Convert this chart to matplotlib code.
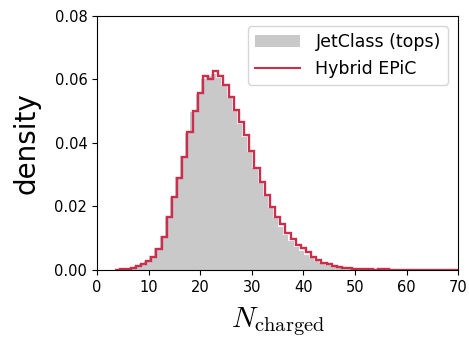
import numpy as np
import matplotlib
matplotlib.use("Agg")
import matplotlib.pyplot as plt
from matplotlib.lines import Line2D
from matplotlib.patches import Patch

plt.rcParams['font.family'] = 'DejaVu Sans'
plt.rcParams['mathtext.fontset'] = 'cm'

# bin centres (number of charged constituents)
n_charged = np.arange(4, 71)

# JetClass (tops), density per unit bin
jetclass = [0.0001, 0.0002, 0.0004, 0.0007, 0.0011, 0.0018, 0.0028, 0.0043,
            0.0068, 0.0108, 0.0168, 0.0230, 0.0292, 0.0360, 0.0432, 0.0497,
            0.0555, 0.0600, 0.0612, 0.0618, 0.0605, 0.0580, 0.0542, 0.0500,
            0.0460, 0.0418, 0.0370, 0.0320, 0.0275, 0.0232, 0.0195, 0.0162,
            0.0135, 0.0110, 0.0090, 0.0073, 0.0060, 0.0048, 0.0037, 0.0029,
            0.0022, 0.0016, 0.0012, 0.0009, 0.0006, 0.0005, 0.0003, 0.0002,
            0.0002, 0.0001, 0.0001, 0.0001]
jetclass = jetclass + [0.0] * (len(n_charged) - len(jetclass))

# Hybrid EPiC
epic = [0.0001, 0.0002, 0.0004, 0.0007, 0.0011, 0.0017, 0.0027, 0.0041,
        0.0065, 0.0105, 0.0165, 0.0228, 0.0288, 0.0356, 0.0435, 0.0500,
        0.0558, 0.0611, 0.0602, 0.0627, 0.0610, 0.0583, 0.0545, 0.0504,
        0.0467, 0.0425, 0.0375, 0.0322, 0.0278, 0.0236, 0.0197, 0.0167,
        0.0143, 0.0116, 0.0097, 0.0077, 0.0068, 0.0055, 0.0040, 0.0032,
        0.0023, 0.0018, 0.0013, 0.0009, 0.0007, 0.0005, 0.0004, 0.0003,
        0.0002, 0.0002, 0.0001, 0.0002, 0.0002, 0.0001]
epic = epic + [0.0] * (len(n_charged) - len(epic))

edges_epic = np.arange(3.5, 71.0, 1.0)
edges_jc = edges_epic - 0.4

gray = '#c9c9c9'
red = '#cc2f4e'

fig = plt.figure(figsize=(4.69, 3.39), dpi=100)
ax = fig.add_axes([0.207, 0.204, 0.77, 0.749])

ax.hist(n_charged - 0.4, bins=edges_jc, weights=jetclass, histtype='stepfilled',
        color=gray)
ax.hist(n_charged, bins=edges_epic, weights=epic, histtype='step',
        color=red, lw=1.7)

ax.set_xlim(0, 70)
ax.set_ylim(0, 0.08)
ax.set_xticks(np.arange(0, 71, 10))
ax.set_yticks([0.0, 0.02, 0.04, 0.06, 0.08])
ax.yaxis.set_major_formatter(matplotlib.ticker.FormatStrFormatter('%.2f'))
ax.tick_params(labelsize=10.5)

ax.set_xlabel(r'$N_{\mathrm{charged}}$', fontsize=21, labelpad=8)
ax.set_ylabel('density', fontsize=20, labelpad=10)

handles = [Patch(facecolor=gray, label='JetClass (tops)'),
           Line2D([], [], color=red, lw=1.5, label='Hybrid EPiC')]
ax.legend(handles=handles, loc='upper right', fontsize=12.5,
          handlelength=2.6, handletextpad=0.9, borderaxespad=0.6)

fig.savefig('out.png', dpi=100)
